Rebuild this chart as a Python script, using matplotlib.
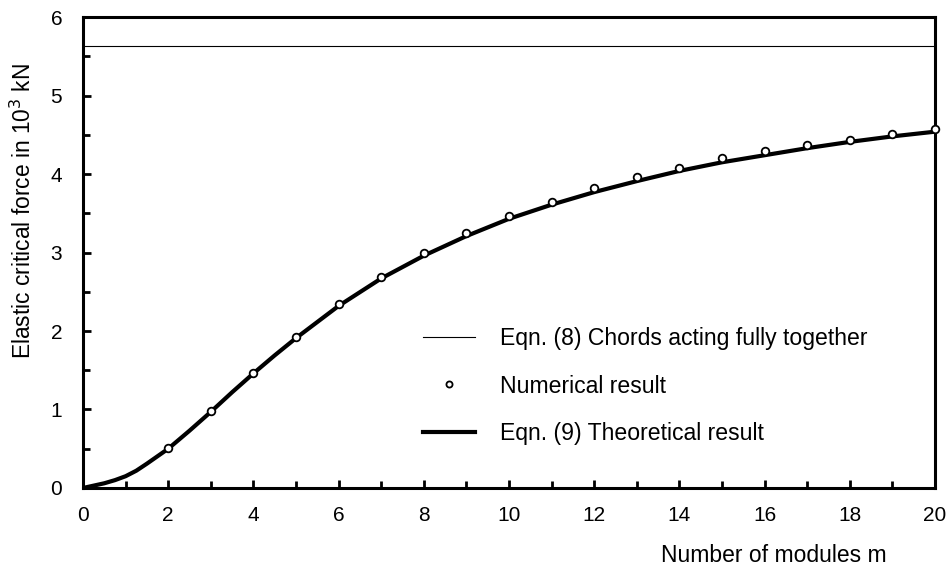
import matplotlib
matplotlib.use("Agg")
import matplotlib.pyplot as plt
from matplotlib.ticker import MultipleLocator

plt.rcParams['font.family'] = ['Liberation Sans', 'DejaVu Sans']

# Eqn. (8) chords acting fully together
full_force = 5.63

# Numerical result
num_m = [2, 3, 4, 5, 6, 7, 8, 9, 10, 11, 12, 13, 14, 15, 16, 17, 18, 19, 20]
num_force = [0.51, 0.98, 1.47, 1.93, 2.34, 2.69, 2.99, 3.25, 3.47, 3.65, 3.82,
             3.96, 4.08, 4.20, 4.29, 4.37, 4.44, 4.51, 4.57]

# Eqn. (9) theoretical result
th_m = [0, 0.25, 0.5, 0.75, 1, 1.25, 1.5, 2, 2.5, 3, 3.5, 4, 4.5, 5, 6, 7, 8, 9,
        10, 11, 12, 13, 14, 15, 16, 17, 18, 19, 20]
th_force = [0.0, 0.03, 0.06, 0.10, 0.15, 0.22, 0.31, 0.50, 0.73, 0.97, 1.22,
            1.46, 1.69, 1.91, 2.32, 2.67, 2.96, 3.21, 3.43, 3.61, 3.77, 3.91,
            4.04, 4.15, 4.24, 4.33, 4.41, 4.48, 4.54]

fig = plt.figure(figsize=(9.5, 5.7), dpi=100)
ax = fig.add_axes([0.0874, 0.1439, 0.8968, 0.8261])

l1 = ax.axhline(full_force, color='black', lw=0.8,
                label='Eqn. (8) Chords acting fully together')
l2, = ax.plot(num_m, num_force, ls='none', marker='o', ms=5.5, mfc='white',
              mec='black', mew=1.3, clip_on=False, zorder=4,
              label='Numerical result')
l3, = ax.plot(th_m, th_force, color='black', lw=3, zorder=3,
              label='Eqn. (9) Theoretical result')

ax.set_xlim(0, 20)
ax.set_ylim(0, 6)
ax.xaxis.set_major_locator(MultipleLocator(2))
ax.xaxis.set_minor_locator(MultipleLocator(1))
ax.yaxis.set_major_locator(MultipleLocator(1))
ax.yaxis.set_minor_locator(MultipleLocator(0.5))
ax.tick_params(which='both', direction='in', width=2, labelsize=15,
               top=False, right=False)
ax.tick_params(axis='x', which='major', length=6, pad=13)
ax.tick_params(axis='y', which='major', length=6, pad=15)
ax.tick_params(which='minor', length=5)
for s in ax.spines.values():
    s.set_linewidth(2.2)

fig.text(0.0242, 0.630, 'Elastic critical force in 10$^{3}$ kN', fontsize=16.4,
         rotation=90, ha='center', va='center')
fig.text(0.815, 0.026, 'Number of modules m', fontsize=16.5, ha='center', va='center')

ax.legend(handles=[l1, l2, l3], loc='lower left',
          bbox_to_anchor=(0.445, 0.219), bbox_transform=fig.transFigure,
          borderaxespad=0, borderpad=0,
          frameon=False, fontsize=16.6, handlelength=2.25, handletextpad=1.1,
          labelspacing=1.07, markerscale=0.8)

fig.savefig('out.png', dpi=100)
